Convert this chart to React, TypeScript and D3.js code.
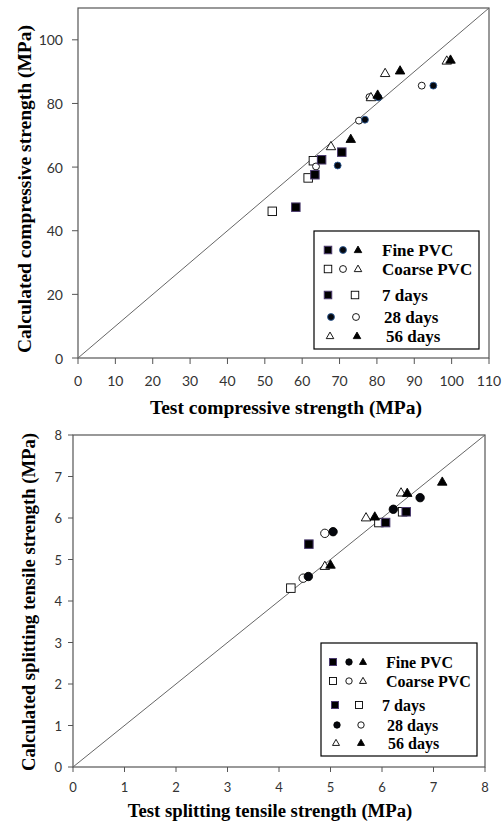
import * as d3 from "d3";

// ---- data ----
// compressive strength, [test, calculated] MPa
const compFine7 = [[58.3, 47.4], [63.4, 57.6], [65.2, 62.3], [70.6, 64.7]];
const compCoarse7 = [[52.0, 46.1], [61.6, 56.6], [63.0, 62.0]];
const compFine28 = [[69.5, 60.5], [76.8, 74.9], [80.4, 81.9], [95.1, 85.6]];
const compCoarse28 = [[63.7, 60.2], [75.2, 74.6], [78.0, 82.0], [92.0, 85.6]];
const compFine56 = [[73.0, 68.8], [80.2, 82.7], [86.2, 90.3], [99.7, 93.7]];
const compCoarse56 = [[67.7, 66.5], [78.4, 81.9], [82.2, 89.5], [98.7, 93.4]];

// splitting tensile strength, [test, calculated] MPa
const tensFine7 = [[4.58, 5.37], [6.07, 5.89], [6.47, 6.15]];
const tensCoarse7 = [[4.23, 4.31], [5.94, 5.89], [6.40, 6.15]];
const tensFine28 = [[4.57, 4.59], [5.05, 5.67], [6.22, 6.21], [6.74, 6.49]];
const tensCoarse28 = [[4.47, 4.55], [4.89, 5.63]];
const tensFine56 = [[5.0, 4.87], [5.86, 6.03], [6.49, 6.6], [7.17, 6.87]];
const tensCoarse56 = [[4.89, 4.84], [5.69, 6.01], [6.37, 6.61]];

const compTicksX = d3.range(0, 111, 10);
const compTicksY = d3.range(0, 101, 20);
const tensTicks = d3.range(0, 9, 1);

const legendLabels = ["Fine PVC", "Coarse PVC", "7 days", "28 days", "56 days"];

const serif = "'Liberation Serif', 'Times New Roman', serif";
const sans = "Lato, 'Open Sans', sans-serif";

type Shape = "square" | "circle" | "triangle";

function Marker({ shape, filled, x, y, s, edge }: { shape: Shape; filled: boolean; x: number; y: number; s: number; edge?: string }) {
  const fill = filled ? "#000" : "#fff";
  if (shape === "square") {
    return <rect x={x - s / 2} y={y - s / 2} width={s} height={s} fill={fill}
      stroke={filled ? "#4b3a6e" : "#000"} strokeWidth={filled ? 1 : 0.9} />;
  }
  if (shape === "circle") {
    return <circle cx={x} cy={y} r={s / 2 - 0.3} fill={filled ? "#05070d" : "#fff"}
      stroke={filled ? (edge || "#000") : "#000"} strokeWidth={0.9} />;
  }
  const h = s * 0.87;
  const pts = [[x, y - h * 0.6], [x + s / 2, y + h * 0.4], [x - s / 2, y + h * 0.4]];
  return <polygon points={pts.map(p => p.join(",")).join(" ")} fill={fill} stroke="#000" strokeWidth={0.9} />;
}

function Panel(p: any) {
  const x = d3.scaleLinear([0, p.xMax], [p.left, p.right]);
  const y = d3.scaleLinear([0, p.yMax], [p.bottom, p.top]);
  const lg = p.legend;
  return (
    <g>
      <rect x={p.left} y={p.top} width={p.right - p.left} height={p.bottom - p.top}
        fill="none" stroke="#555" strokeWidth={1.2} />
      {p.yTicks.map((t: number) => (
        <g key={"y" + t}>
          <line x1={p.left - p.tick} x2={p.left} y1={y(t)} y2={y(t)} stroke="#555" />
          <text x={p.left - p.tick - p.gap} y={y(t)} textAnchor="end" dominantBaseline="central"
            fontFamily={sans} fontSize={p.tickSize} fill="#333">{t}</text>
        </g>
      ))}
      {p.xTicks.map((t: number) => (
        <g key={"x" + t}>
          <line x1={x(t)} x2={x(t)} y1={p.bottom} y2={p.bottom + p.tick} stroke="#555" />
          <text x={x(t)} y={p.xLabelY} textAnchor="middle" dominantBaseline="central"
            fontFamily={sans} fontSize={p.tickSize} fill="#333">{t}</text>
        </g>
      ))}
      <line x1={x(0)} y1={y(0)} x2={x(p.xMax)} y2={y(p.yMax)} stroke="#666" strokeWidth={1} />
      {p.series.map((s: any, i: number) => (
        <g key={i}>
          {s.data.map((d: number[], j: number) => (
            <Marker key={j} shape={s.shape} filled={s.filled} x={x(d[0])} y={y(d[1])} s={s.size} edge={p.circleEdge} />
          ))}
        </g>
      ))}
      <text x={p.xTitleX} y={p.xTitleY} textAnchor="middle" fontFamily={serif} fontWeight="bold"
        fontSize={p.titleSize} fill="#000">{p.xTitle}</text>
      <text transform={`translate(${p.yTitleX},${p.yTitleY}) rotate(-90)`} textAnchor="middle"
        dominantBaseline="central" fontFamily={serif} fontWeight="bold" fontSize={p.titleSize}
        fill="#000">{p.yTitle}</text>
      <rect x={lg.x} y={lg.y} width={lg.w} height={lg.h} fill="#fff" stroke="#000" strokeWidth={1.2} />
      {lg.rows.map((r: any, i: number) => (
        <g key={i}>
          {r.marks.map((m: any, j: number) => (
            <Marker key={j} shape={m[0]} filled={m[1]} x={lg.x + m[2]} y={lg.y + r.dy} s={lg.mark} edge={p.circleEdge} />
          ))}
          <text x={lg.x + r.tx} y={lg.y + r.dy} dominantBaseline="central" fontFamily={serif}
            fontWeight="bold" fontSize={lg.fontSize} fill="#000">{legendLabels[i]}</text>
        </g>
      ))}
    </g>
  );
}

function seriesFor(c7: number[][], c28: number[][], c56: number[][], f7: number[][], f28: number[][], f56: number[][], sz: number, cz: number) {
  return [
    { shape: "square", filled: false, data: c7, size: sz },
    { shape: "circle", filled: false, data: c28, size: cz },
    { shape: "triangle", filled: false, data: c56, size: sz + 1 },
    { shape: "square", filled: true, data: f7, size: sz },
    { shape: "circle", filled: true, data: f28, size: cz },
    { shape: "triangle", filled: true, data: f56, size: sz + 1 },
  ];
}

export default function App() {
  const top = {
    left: 78, right: 489, top: 8, bottom: 358, xMax: 110, yMax: 110,
    xTicks: compTicksX, yTicks: compTicksY, tick: 6, gap: 9, tickSize: 14, xLabelY: 380,
    titleSize: 19.5, xTitle: "Test compressive strength (MPa)", xTitleX: 286, xTitleY: 414,
    yTitle: "Calculated compressive strength (MPa)", yTitleX: 24, yTitleY: 189,
    circleEdge: "#2f5e98",
    series: seriesFor(compCoarse7, compCoarse28, compCoarse56, compFine7, compFine28, compFine56, 8.5, 7.5),
    legend: {
      x: 314, y: 231, w: 165, h: 118, fontSize: 17, mark: 7.5,
      rows: [
        { dy: 19, tx: 68, marks: [["square", true, 14], ["circle", true, 29], ["triangle", true, 44]] },
        { dy: 38, tx: 68, marks: [["square", false, 14], ["circle", false, 29], ["triangle", false, 44]] },
        { dy: 64, tx: 68, marks: [["square", true, 14], ["square", false, 41]] },
        { dy: 86, tx: 70, marks: [["circle", true, 17], ["circle", false, 42]] },
        { dy: 105, tx: 72, marks: [["triangle", false, 16], ["triangle", true, 43]] },
      ],
    },
  };
  const bottom = {
    left: 73, right: 485, top: 435, bottom: 767, xMax: 8, yMax: 8,
    xTicks: tensTicks, yTicks: tensTicks, tick: 5, gap: 6, tickSize: 13, xLabelY: 787,
    titleSize: 18.7, xTitle: "Test splitting tensile strength (MPa)", xTitleX: 270, xTitleY: 817,
    yTitle: "Calculated splitting tensile strength (MPa)", yTitleX: 28, yTitleY: 602,
    circleEdge: "#000",
    series: seriesFor(tensCoarse7, tensCoarse28, tensCoarse56, tensFine7, tensFine28, tensFine56, 8.5, 9),
    legend: {
      x: 321, y: 643, w: 156, h: 113, fontSize: 16, mark: 7,
      rows: [
        { dy: 19, tx: 65, marks: [["square", true, 12], ["circle", true, 28], ["triangle", true, 42]] },
        { dy: 38, tx: 65, marks: [["square", false, 12], ["circle", false, 28], ["triangle", false, 42]] },
        { dy: 62, tx: 61, marks: [["square", true, 14], ["square", false, 38]] },
        { dy: 82, tx: 66, marks: [["circle", true, 16], ["circle", false, 40]] },
        { dy: 100, tx: 67, marks: [["triangle", false, 15], ["triangle", true, 40]] },
      ],
    },
  };
  return (
    <svg width={504} height={825} viewBox="0 0 504 825" style={{ position: "absolute", left: 0, top: 0, background: "#fff" }}>
      <rect width={504} height={825} fill="#fff" />
      <Panel {...top} />
      <Panel {...bottom} />
    </svg>
  );
}
